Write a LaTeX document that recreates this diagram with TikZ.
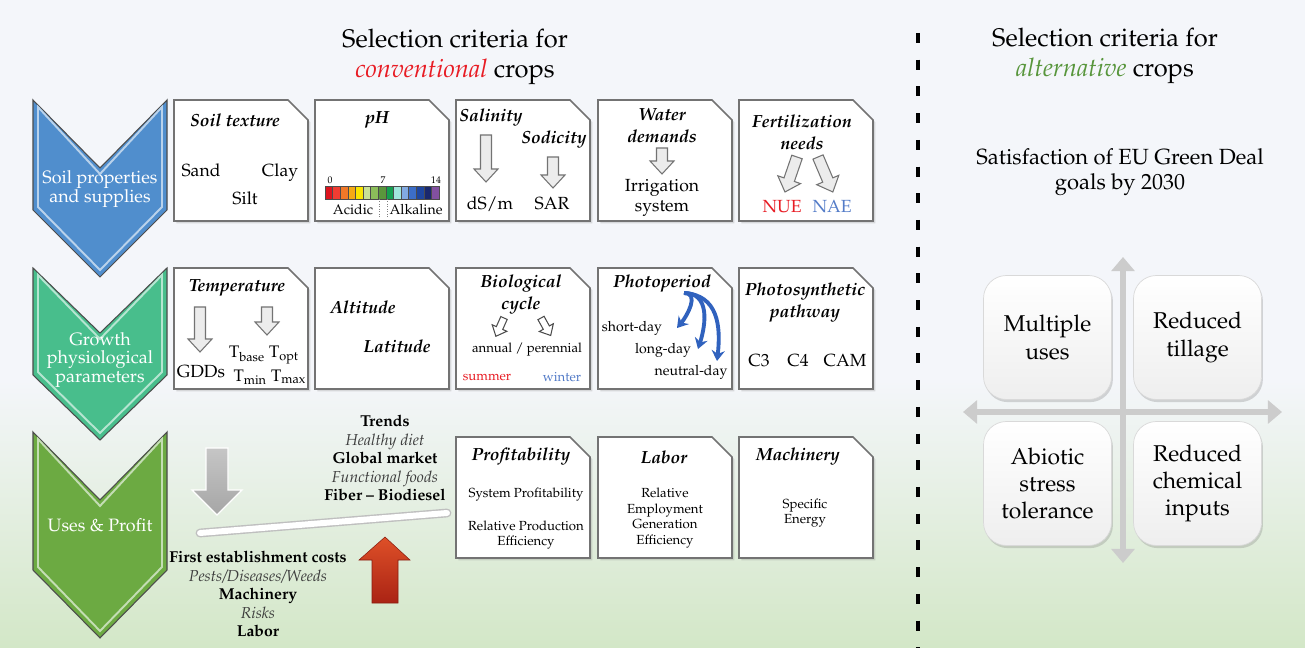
\documentclass[tikz,border=0pt]{standalone}
\usepackage[T1]{fontenc}
\usepackage{mathpazo}
\usepackage{tikz}
\usetikzlibrary{arrows.meta}
\usetikzlibrary{shadows}
\usetikzlibrary{positioning}

\definecolor{bgtop}{RGB}{244,246,250}
\definecolor{bggreen}{RGB}{211,231,199}
\definecolor{chblue}{RGB}{80,142,205}
\definecolor{chteal}{RGB}{72,190,140}
\definecolor{chgreen}{RGB}{108,170,66}
\definecolor{convred}{RGB}{232,28,36}
\definecolor{altgreen}{RGB}{88,150,60}
\definecolor{naeblue}{RGB}{84,124,200}
\definecolor{ppblue}{RGB}{48,98,190}
\definecolor{boxline}{RGB}{115,115,115}
\definecolor{darktxt}{RGB}{60,60,60}
\definecolor{redtop}{RGB}{222,80,40}
\definecolor{redbot}{RGB}{170,35,20}
\definecolor{ph1}{RGB}{220,20,30}
\definecolor{ph2}{RGB}{240,60,50}
\definecolor{ph3}{RGB}{240,120,40}
\definecolor{ph4}{RGB}{245,170,20}
\definecolor{ph5}{RGB}{250,230,0}
\definecolor{ph6}{RGB}{200,225,150}
\definecolor{ph7}{RGB}{140,190,90}
\definecolor{ph8}{RGB}{90,150,60}
\definecolor{ph9}{RGB}{20,160,80}
\definecolor{ph10}{RGB}{160,230,220}
\definecolor{ph11}{RGB}{130,170,225}
\definecolor{ph12}{RGB}{60,110,200}
\definecolor{ph13}{RGB}{30,70,160}
\definecolor{ph14}{RGB}{25,40,110}
\definecolor{ph15}{RGB}{130,80,160}

\begin{document}
\begin{tikzpicture}[x=0.02cm,y=-0.02cm]
\tikzstyle{cbox} = [draw=boxline, line width=0.9pt, fill=white, drop shadow={opacity=0.25, shadow xshift=1.3pt, shadow yshift=-1.3pt}]
\tikzstyle{ttl} = [font=\fontsize{10}{12.5}\selectfont\bfseries\itshape, align=center, inner sep=1pt]
\tikzstyle{txt} = [font=\fontsize{10}{11.5}\selectfont, align=center, inner sep=1pt]
\tikzstyle{sml} = [font=\fontsize{7.5}{8.8}\selectfont, align=center, inner sep=1pt]
\tikzstyle{tny} = [font=\fontsize{5.5}{6}\selectfont, inner sep=0pt]
\tikzstyle{chev} = [draw=gray!60!black, line width=0.6pt]
\tikzstyle{chevtxt} = [font=\fontsize{10.2}{10.5}\selectfont, text=white, align=center]
\tikzstyle{garr} = [draw=boxline, fill=gray!15, line width=0.6pt]
\tikzstyle{harr} = [draw=gray!60!black, fill=white, line width=0.6pt]
\tikzstyle{pparr} = [draw=ppblue, line width=2.2pt, -{Stealth[length=6pt,width=7.5pt]}]
\tikzstyle{qarr} = [draw=gray!40, line width=3.6pt, {Triangle[length=8pt,width=13pt]}-{Triangle[length=8pt,width=13pt]}]
\tikzstyle{qbox} = [draw=gray!30, rounded corners=13pt, top color=white, bottom color=gray!13, minimum width=2.56cm, minimum height=2.48cm, font=\fontsize{13}{15.5}\selectfont, align=center, drop shadow={opacity=0.3, shadow xshift=0.8pt, shadow yshift=-1.5pt}]
\tikzstyle{trend} = [font=\fontsize{9}{10.5}\selectfont, align=center, inner sep=1pt]
\tikzset{
barr/.pic={\path[pic actions] (-5.5,0) -- (5.5,0) -- (5.5,#1-13) -- (12,#1-13) -- (0,#1) -- (-12,#1-13) -- (-5.5,#1-13) -- cycle;},
sarr/.pic={\path[pic actions] (-3.5,0) -- (3.5,0) -- (3.5,#1-9) -- (8,#1-9) -- (0,#1) -- (-8,#1-9) -- (-3.5,#1-9) -- cycle;}
}

\fill[bgtop] (0,0) rectangle (1305,380);
\shade[top color=bgtop, bottom color=bggreen] (0,380) rectangle (1305,648);
\useasboundingbox (0,0) rectangle (1305,648);

\draw[line width=2.3pt, dash pattern=on 5.7pt off 9.5pt] (918,33) -- (918,648);

\node[font=\fontsize{14.5}{17}\selectfont, align=center] (convtitle) at (455,57) {Selection criteria for\\\textcolor{convred}{\textit{conventional}} crops};
\node[font=\fontsize{14.5}{17}\selectfont, align=center] (alttitle) at (1105,56) {Selection criteria for\\\textcolor{altgreen}{\textit{alternative}} crops};
\node[font=\fontsize{12.5}{14.5}\selectfont, align=center] (greendeal) at (1120,172) {Satisfaction of EU Green Deal\\goals by 2030};

% chevrons
\foreach \t/\n/\s/\b/\c in {100/168/210/277/chblue, 268/333/375/440/chteal, 432/500/570/638/chgreen} {
\path[fill=\c, chev] (33,\t) -- (100,\n) -- (167,\t) -- (167,\s) -- (100,\b) -- (33,\s) -- cycle;
\draw[\c!40!white, line width=1.1pt] (38,\t+7) -- (100,\n+6) -- (162,\t+7) -- (162,\s-3) -- (100,\b-7) -- (38,\s-3) -- cycle;
}
\node[chevtxt] (soil) at (100,189) {Soil properties\\and supplies};
\node[chevtxt] (growth) at (100,360) {Growth\\physiological\\parameters};
\node[chevtxt] (uses) at (100,525) {Uses \& Profit};

% boxes
\foreach \y in {100,268}
\foreach \x in {174,315,456,598,739}
\draw[cbox] (\x,\y) -- ++(114,0) -- ++(20,20) -- ++(0,101) -- ++(-134,0) -- cycle;
\foreach \x in {456,598,739}
\draw[cbox] (\x,437) -- ++(114,0) -- ++(20,20) -- ++(0,101) -- ++(-134,0) -- cycle;

% row 1
\node[ttl] (soiltex) at (235,120) {Soil texture};
\node[txt, anchor=base] (sand) at (201,177) {Sand};
\node[txt, anchor=base] (clay) at (280,177) {Clay};
\node[txt, anchor=base] (silt) at (245,205) {Silt};

\node[ttl] (ph) at (377,120) {pH};
\foreach \c [count=\i from 0] in {ph1,ph2,ph3,ph4,ph5,ph6,ph7,ph8,ph9,ph10,ph11,ph12,ph13,ph14,ph15}
\draw[draw=black!70, line width=0.3pt, fill=\c] ({325+7.6*\i},186) rectangle ++(7.6,13);
\node[tny] (ph0) at (330,180) {0};
\node[tny] (ph7) at (383,180) {7};
\node[tny] (ph14) at (436,180) {14};
\draw[densely dotted, gray] (379,199) -- (379,218);
\draw[densely dotted, gray] (387,199) -- (387,218);
\node[font=\fontsize{8}{9}\selectfont, inner sep=1pt] (acid) at (353,210) {Acidic};
\node[font=\fontsize{8}{9}\selectfont, inner sep=1pt] (alk) at (416,210) {Alkaline};

\node[ttl] (salin) at (491,118) {Salinity};
\node[ttl] (sodic) at (554,140) {Sodicity};
\pic[garr] at (486,135) {barr=47};
\pic[garr] at (553,157) {barr=31};
\node[txt, anchor=base] (dsm) at (490,210) {dS/m};
\node[txt, anchor=base] (sar) at (552,210) {SAR};

\node[ttl] (water) at (662,126) {Water\\demands};
\pic[garr] at (662,148) {barr=26};
\node[txt] (irrig) at (662,198) {Irrigation\\system};

\node[ttl] (fert) at (802,132) {Fertilization\\needs};
\pic[garr, rotate=-19] at (797,157) {barr=37};
\pic[garr, rotate=23] at (818,157) {barr=38};
\node[txt, text=convred, anchor=base] (nue) at (782,213) {NUE};
\node[txt, text=naeblue, anchor=base] (nae) at (832,213) {NAE};

% row 2
\node[ttl] (temp) at (237,288) {Temperature};
\pic[garr] at (200,307) {barr=45};
\pic[garr] at (267,307) {barr=28};
\node[txt] (gdd) at (201,372) {GDDs};
\node[font=\fontsize{9.5}{11}\selectfont, inner sep=1pt] (tbo) at (264,355) {T\textsubscript{base} T\textsubscript{opt}};
\node[font=\fontsize{9.5}{11}\selectfont, inner sep=1pt] (tmm) at (270,377) {T\textsubscript{min} T\textsubscript{max}};

\node[ttl] (alti) at (363,307) {Altitude};
\node[ttl] (lati) at (397,346) {Latitude};

\node[ttl] (biocyc) at (521,295) {Biological\\cycle};
\pic[harr, rotate=-24] at (504,318) {sarr=20};
\pic[harr, rotate=29] at (541,318) {sarr=20};
\node[sml] (annual) at (527,350) {annual / perennial};
\node[sml, text=convred] (summer) at (487,377) {summer};
\node[sml, text=naeblue] (winter) at (562,377) {winter};

\node[ttl] (photo) at (662,284) {Photoperiod};
\node[sml, font=\fontsize{8}{9}\selectfont] (sd) at (632,328) {short-day};
\node[sml, font=\fontsize{8}{9}\selectfont] (ld) at (663,350) {long-day};
\node[sml, font=\fontsize{8}{9}\selectfont] (nd) at (691,372) {neutral-day};
\coordinate (pp) at (684,293);
\coordinate (sdend) at (677,328);
\coordinate (ldend) at (698,349);
\coordinate (ndend) at (717,361);
\draw[pparr] (pp) .. controls +(16,0) and +(10,-12) .. (sdend);
\draw[pparr] (pp) .. controls +(26,0) and +(8,-25) .. (ldend);
\draw[pparr] (pp) .. controls +(34,2) and +(4,-35) .. (ndend);

\node[ttl] (photosyn) at (805,303) {Photosynthetic\\pathway};
\node[txt, anchor=base] (c3) at (759,367) {C3};
\node[txt, anchor=base] (c4) at (798,367) {C4};
\node[txt, anchor=base] (cam) at (845,367) {CAM};

% row 3
\node[ttl] (profit) at (521,457) {Profitability};
\node[sml] (sysprof) at (526,495) {System Profitability};
\node[sml] (relprod) at (526,535) {Relative Production\\Efficiency};
\node[ttl] (labor) at (664,457) {Labor};
\node[sml] (relemp) at (665,518) {Relative\\Employment\\Generation\\Efficiency};
\node[ttl] (mach) at (798,457) {Machinery};
\node[sml] (specen) at (805,513) {Specific\\Energy};

% balance
\node[trend] (trends) at (385,458) {\textbf{Trends}\\\textcolor{darktxt}{\textit{Healthy diet}}\\\textbf{Global market}\\\textcolor{darktxt}{\textit{Functional foods}}\\\textbf{Fiber -- Biodiesel}};
\node[trend] (costs) at (258,594) {\textbf{First establishment costs}\\\textcolor{darktxt}{\textit{Pests/Diseases/Weeds}}\\\textbf{Machinery}\\\textcolor{darktxt}{\textit{Risks}}\\\textbf{Labor}};
\coordinate (beamL) at (200,533);
\coordinate (beamR) at (447,513);
\draw[gray!50, line width=5pt, line cap=round] (beamL) -- (beamR);
\draw[white, line width=3.4pt, line cap=round] (beamL) -- (beamR);
\path[top color=gray!45, bottom color=gray!70, draw=white, line width=0.8pt] (206,448) -- (228,448) -- (228,490) -- (242,490) -- (217,515) -- (192,490) -- (206,490) -- cycle;
\path[top color=redtop, bottom color=redbot, draw=redbot!80!black, line width=0.3pt] (372,603) -- (398,603) -- (398,560) -- (410,560) -- (385,537) -- (359,560) -- (372,560) -- cycle;

% quadrant
\coordinate (qtop) at (1123,257);
\coordinate (qbot) at (1123,563);
\coordinate (qleft) at (963,412);
\coordinate (qright) at (1282,412);
\draw[qarr] (qtop) -- (qbot);
\draw[qarr] (qleft) -- (qright);
\node[qbox] (multi) at (1047.5,337.5) {Multiple\\uses};
\node[qbox] (tillage) at (1197.5,337.5) {Reduced\\tillage};
\node[qbox] (abiotic) at (1047.5,483.5) {Abiotic\\stress\\tolerance};
\node[qbox] (chem) at (1197.5,483.5) {Reduced\\chemical\\inputs};

\end{tikzpicture}
\end{document}
